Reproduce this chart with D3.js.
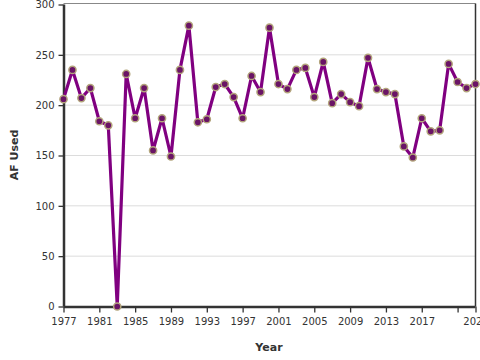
<!DOCTYPE html>
<html><head><meta charset="utf-8">
<script src="https://cdn.jsdelivr.net/npm/d3@7"></script>
<style>body{margin:0;background:#fff;} svg{display:block;font-family:"DejaVu Sans",sans-serif;}</style>
</head><body>
<svg id="c" width="480" height="360"></svg>
<script>
const years = d3.range(1977, 2024);
const afUsed = [206,235,207,217,184,180,0,231,187,217,155,187,149,235,279,183,186,218,221,208,187,229,213,277,221,216,235,237,208,243,202,211,203,199,247,216,213,211,159,148,187,174,175,241,223,217,221];
const yTicks = [0,50,100,150,200,250,300];
const xTicks = [1977,1981,1985,1989,1993,1997,2001,2005,2009,2013,2017,2021,2023];
const xLabels = ["1977","1981","1985","1989","1993","1997","2001","2005","2009","2013","2017","","2023"];

const svg = d3.select("#c");
const L = 63.5, R = 475.5, T = 4.5, B = 306.5;
const x = d3.scaleLinear().domain([1977, 2023]).range([L, R]);
const y = d3.scaleLinear().domain([0, 300]).range([B, T]);

// grid
svg.append("g").selectAll("line").data(yTicks.filter(d => d > 0 && d < 300)).join("line")
  .attr("x1", L).attr("x2", R).attr("y1", d => y(d)).attr("y2", d => y(d))
  .attr("stroke", "#dcdcdc").attr("stroke-width", 1);

// frame top/right
svg.append("line").attr("x1", L).attr("x2", R).attr("y1", T - 1).attr("y2", T - 1).attr("stroke", "#888").attr("stroke-width", 1);
svg.append("line").attr("x1", R).attr("x2", R).attr("y1", T - 1).attr("y2", B).attr("stroke", "#333").attr("stroke-width", 1.5);

// axes
const yAxis = svg.append("g").attr("transform", `translate(${L},0)`)
  .call(d3.axisLeft(y).tickValues(yTicks).tickSize(5).tickPadding(4));
const xAxis = svg.append("g").attr("transform", `translate(0,${B})`)
  .call(d3.axisBottom(x).tickValues(xTicks).tickSize(6).tickPadding(5).tickFormat((d, i) => xLabels[i]));
[yAxis, xAxis].forEach(a => {
  a.select(".domain").attr("stroke", "#333").attr("stroke-width", 2.5);
  a.selectAll(".tick line").attr("stroke", "#333").attr("stroke-width", 1.3);
  a.selectAll(".tick text").attr("fill", "#333").style("font-size", "10px").style("font-family", "DejaVu Sans");
});
xAxis.select(".domain").attr("d", `M${L},0.5H${R}`);
yAxis.select(".domain").attr("d", `M0.5,${T}V${B}`);

// line
const data = years.map((yr, i) => ({yr, v: afUsed[i]}));
svg.append("path").datum(data)
  .attr("fill", "none").attr("stroke", "#800080").attr("stroke-width", 3.2).attr("stroke-linejoin", "round")
  .attr("d", d3.line().x(d => x(d.yr)).y(d => y(d.v)));
svg.append("g").selectAll("circle").data(data).join("circle")
  .attr("cx", d => x(d.yr)).attr("cy", d => y(d.v)).attr("r", 3.6)
  .attr("fill", "#6a1466").attr("stroke", "#b3a57c").attr("stroke-width", 1.5);

// titles
svg.append("text").attr("x", 269).attr("y", 351).attr("text-anchor", "middle")
  .style("font-size", "11px").style("font-weight", "bold").attr("fill", "#333").text("Year");
svg.append("text").attr("transform", "translate(18,155) rotate(-90)").attr("text-anchor", "middle")
  .style("font-size", "11px").style("font-weight", "bold").attr("fill", "#333").text("AF Used");
</script>
</body></html>
